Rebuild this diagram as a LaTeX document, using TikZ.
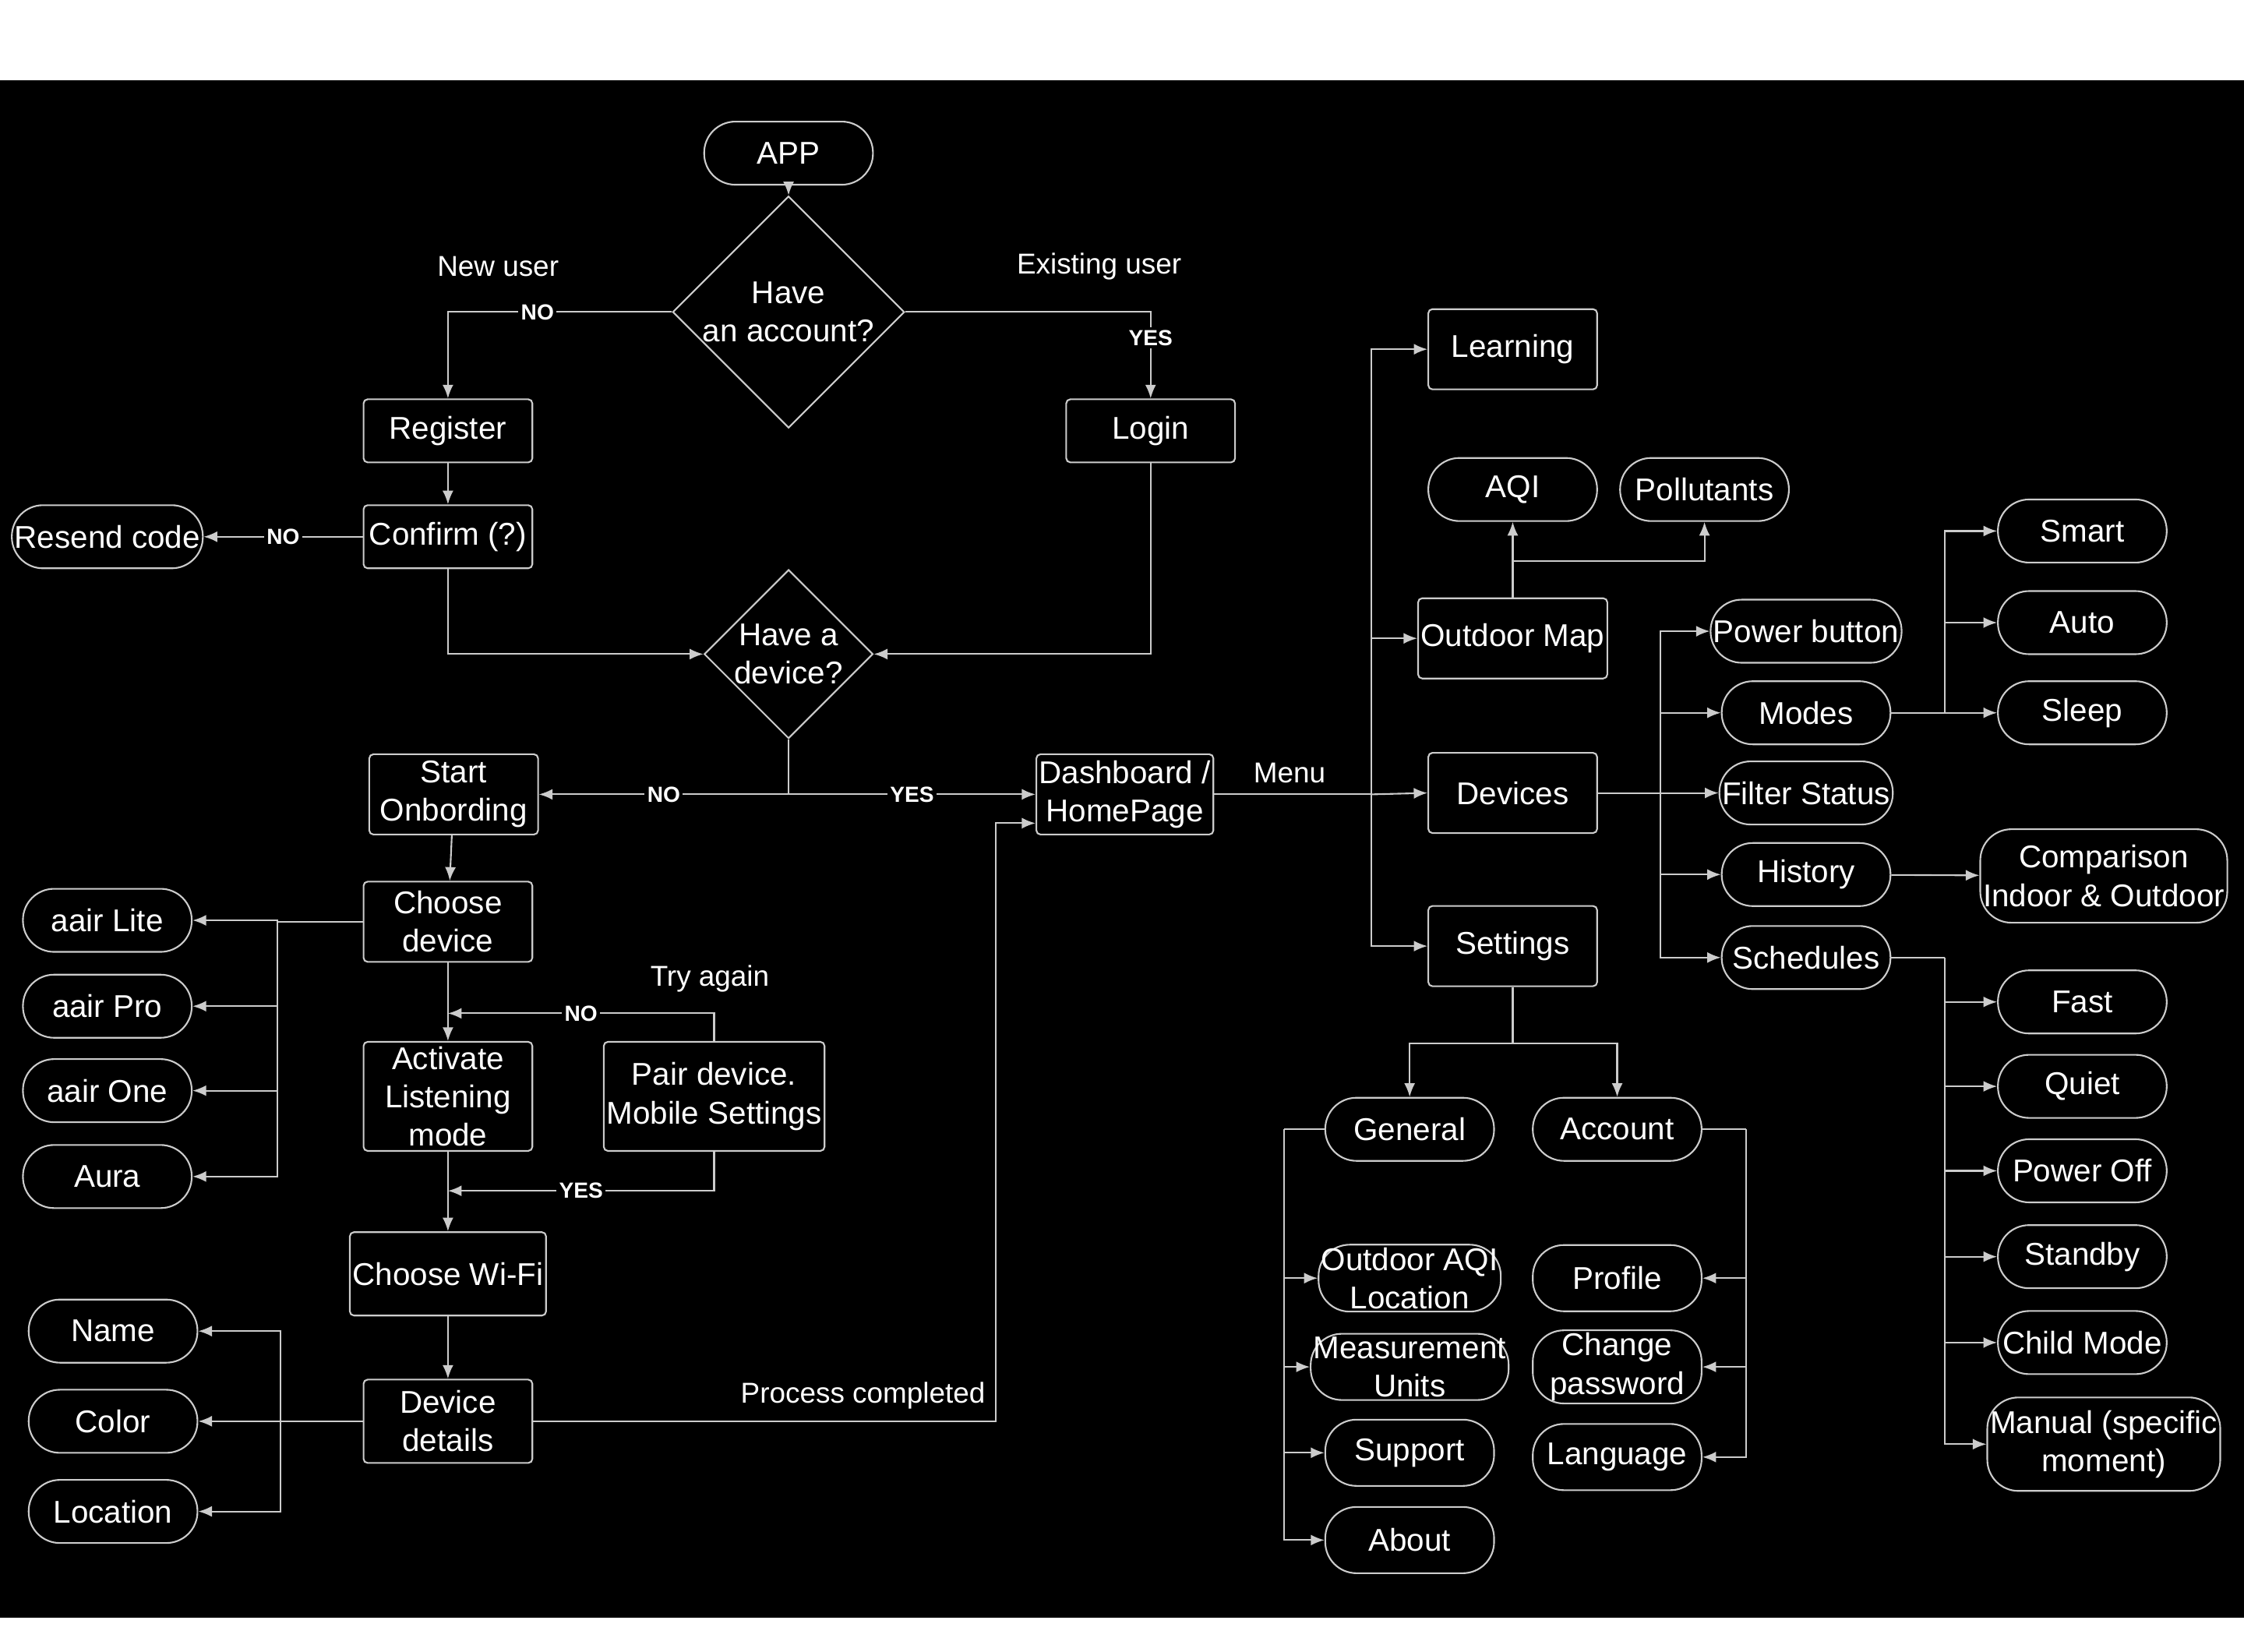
\documentclass[tikz,border=0pt]{standalone}
\usepackage{fontspec}
\setmainfont{Liberation Sans}
\usetikzlibrary{shapes.geometric,arrows.meta}
\begin{document}
\begin{tikzpicture}[x=0.018367cm,y=-0.018367cm,
  every node/.style={text=white,font=\fontsize{11.5}{14}\selectfont,align=center,inner sep=1pt},
  box/.style={draw=white!80!black,line width=0.6pt,rounded corners=1.5pt,minimum width=2.167cm,minimum height=#1},
  box/.default=1.03cm,
  pill/.style={draw=white!80!black,line width=0.6pt,rounded corners=0.4cm,minimum width=2.167cm,minimum height=#1},
  pill/.default=0.81cm,
  dia/.style={draw=white!80!black,line width=0.6pt,diamond,minimum width=2.13cm,minimum height=1.6cm,inner sep=0pt},
  ln/.style={draw=white!80!black,line width=0.6pt},
  ar/.style={ln,-{Latex[length=5pt,width=4pt]}},
  lab/.style={fill=black,font=\bfseries\fontsize{8}{9}\selectfont,inner sep=1pt},
  capt/.style={font=\fontsize{10.5}{12}\selectfont}]
\fill[white] (0,0) rectangle (1568,1154);
\fill[black] (0,56) rectangle (1568,1130);
\useasboundingbox (0,0) rectangle (1568,1154);
% nodes
\node[pill] (app) at (551,107) {APP};
\node[dia] (d1) at (551,218) {Have\\an account?};
\node[box=0.81cm] (reg) at (313,301) {Register};
\node[box=0.81cm] (login) at (804,301) {Login};
\node[box=0.81cm] (conf) at (313,375) {Confirm (?)};
\node[pill] (resend) at (75,375) {Resend code};
\node[dia] (d2) at (551,457) {Have a\\device?};
\node[box] (start) at (317,555) {Start\\Onbording};
\node[box] (dash) at (786,555) {Dashboard /\\HomePage};
\node[box] (choose) at (313,644) {Choose\\device};
\node[pill] (lite) at (75,643) {aair Lite};
\node[pill] (pro) at (75,703) {aair Pro};
\node[pill] (one) at (75,762) {aair One};
\node[pill] (aura) at (75,822) {Aura};
\node[box=1.4cm] (act) at (313,766) {Activate\\Listening\\mode};
\node[box=1.4cm,minimum width=2.46cm] (pair) at (499,766) {Pair device.\\Mobile Settings};
\node[box=1.07cm] (wifi) at (313,890) {Choose Wi-Fi};
\node[box=1.07cm] (det) at (313,993) {Device\\details};
\node[pill] (name) at (79,930) {Name};
\node[pill] (color) at (79,993) {Color};
\node[pill] (loc) at (79,1056) {Location};
\node[box] (learn) at (1057,244) {Learning};
\node[pill] (aqi) at (1057,342) {AQI};
\node[pill] (poll) at (1191,342) {Pollutants};
\node[box] (omap) at (1057,446) {Outdoor Map};
\node[box] (dev) at (1057,554) {Devices};
\node[box] (set) at (1057,661) {Settings};
\node[pill] (gen) at (985,789) {General};
\node[pill] (acc) at (1130,789) {Account};
\node[pill=0.85cm] (oaqi) at (985,893) {Outdoor AQI\\Location};
\node[pill=0.85cm] (meas) at (985,955) {Measurement\\Units};
\node[pill=0.85cm] (sup) at (985,1015) {Support};
\node[pill=0.85cm] (about) at (985,1076) {About};
\node[pill=0.85cm] (prof) at (1130,893) {Profile};
\node[pill=0.85cm] (chpw) at (1130,955) {Change\\password};
\node[pill=0.85cm] (lang) at (1130,1018) {Language};
\node[pill] (pwr) at (1262,441) {Power button};
\node[pill] (modes) at (1262,498) {Modes};
\node[pill] (filt) at (1262,554) {Filter Status};
\node[pill] (hist) at (1262,611) {History};
\node[pill] (sched) at (1262,669) {Schedules};
\node[pill] (smart) at (1455,371) {Smart};
\node[pill] (auto) at (1455,435) {Auto};
\node[pill] (sleep) at (1455,498) {Sleep};
\node[pill=1.2cm,minimum width=2.76cm] (comp) at (1470,612) {Comparison\\Indoor \& Outdoor};
\node[pill] (fast) at (1455,700) {Fast};
\node[pill] (quiet) at (1455,759) {Quiet};
\node[pill] (poff) at (1455,818) {Power Off};
\node[pill] (stby) at (1455,878) {Standby};
\node[pill] (child) at (1455,938) {Child Mode};
\node[pill=1.2cm,minimum width=2.76cm] (man) at (1470,1009) {Manual (specific\\moment)};
% coordinates
\coordinate (j1) at (551,555);
\coordinate (bL) at (194,644);
\coordinate (bN) at (196,993);
\coordinate (tA) at (313,708);
\coordinate (tB) at (313,832);
\coordinate (pc) at (696,993);
\coordinate (mb) at (958,555);
\coordinate (db) at (1160,554);
\coordinate (mdb) at (1359,498);
\coordinate (scb) at (1359,669);
\coordinate (sb) at (1057,729);
\coordinate (gb) at (897,789);
\coordinate (ab) at (1220,789);
\coordinate (ob) at (1057,392);
% captions
\node[capt] at (348,186) {New user};
\node[capt] at (768,186) {Existing user};
\node[capt] at (496,684) {Try again};
\node[capt] at (603,975) {Process completed};
\node[capt] at (901,540) {Menu};
% edges
\draw[ar] (app) -- (d1);
\draw[ar] (d1.west) -| node[lab,pos=0.3]{NO} (reg.north);
\draw[ar] (d1.east) -| node[lab,pos=0.65]{YES} (login.north);
\draw[ar] (reg) -- (conf);
\draw[ar] (conf) -- node[lab]{NO} (resend);
\draw[ar] (conf.south) |- (d2.west);
\draw[ar] (login.south) |- (d2.east);
\draw[ln] (d2.south) -- (j1);
\draw[ar] (j1) -- node[lab]{NO} (start.east);
\draw[ar] (j1) -- node[lab]{YES} (dash.west);
\draw[ar] (start) -- (choose);
\draw[ln] (choose.west) -- (bL);
\draw[ar] (bL) |- (lite.east);
\draw[ar] (bL) |- (pro.east);
\draw[ar] (bL) |- (one.east);
\draw[ar] (bL) |- (aura.east);
\draw[ar] (choose) -- (act);
\draw[ar] (pair.north) |- node[lab,pos=0.75]{NO} (tA);
\draw[ar] (pair.south) |- node[lab,pos=0.75]{YES} (tB);
\draw[ar] (act) -- (wifi);
\draw[ar] (wifi) -- (det);
\draw[ln] (det.west) -- (bN);
\draw[ar] (bN) |- (name.east);
\draw[ar] (bN) |- (color.east);
\draw[ar] (bN) |- (loc.east);
\draw[ar] (det.east) -- (pc) |- ([yshift=-0.37cm]dash.west);
\draw[ln] (dash.east) -- (mb);
\draw[ar] (mb) |- (learn.west);
\draw[ar] (mb) |- (omap.west);
\draw[ar] (mb) -- (dev.west);
\draw[ar] (mb) |- (set.west);
\draw[ar] (omap.north) -- (aqi.south);
\draw[ar] (ob) -| (poll.south);
\draw[ln] (dev.east) -- (db);
\draw[ar] (db) |- (pwr.west);
\draw[ar] (db) |- (modes.west);
\draw[ar] (db) -- (filt.west);
\draw[ar] (db) |- (hist.west);
\draw[ar] (db) |- (sched.west);
\draw[ln] (modes.east) -- (mdb);
\draw[ar] (mdb) |- (smart.west);
\draw[ar] (mdb) |- (auto.west);
\draw[ar] (mdb) -- (sleep.west);
\draw[ar] (hist) -- (comp);
\draw[ln] (sched.east) -- (scb);
\draw[ar] (scb) |- (fast.west);
\draw[ar] (scb) |- (quiet.west);
\draw[ar] (scb) |- (poff.west);
\draw[ar] (scb) |- (stby.west);
\draw[ar] (scb) |- (child.west);
\draw[ar] (scb) |- (man.west);
\draw[ln] (set.south) -- (sb);
\draw[ar] (sb) -| (gen.north);
\draw[ar] (sb) -| (acc.north);
\draw[ln] (gen.west) -- (gb);
\draw[ar] (gb) |- (oaqi.west);
\draw[ar] (gb) |- (meas.west);
\draw[ar] (gb) |- (sup.west);
\draw[ar] (gb) |- (about.west);
\draw[ln] (acc.east) -- (ab);
\draw[ar] (ab) |- (prof.east);
\draw[ar] (ab) |- (chpw.east);
\draw[ar] (ab) |- (lang.east);
\end{tikzpicture}
\end{document}
